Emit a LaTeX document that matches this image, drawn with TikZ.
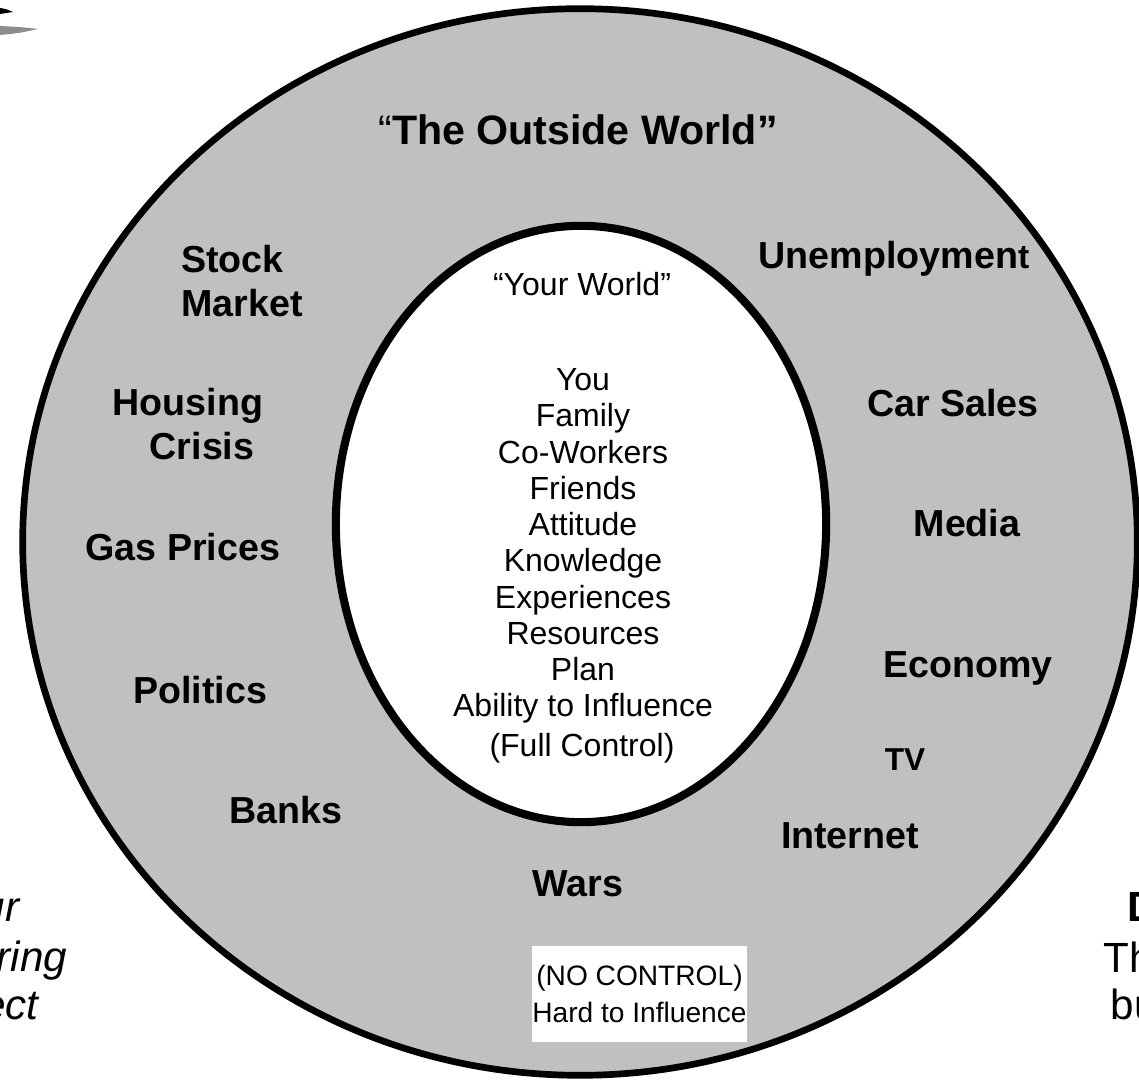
\documentclass[tikz,border=0pt]{standalone}
\usepackage{fontspec}
\setmainfont{Liberation Sans}
\definecolor{ringgray}{RGB}{192,192,192}

\tikzset{
  outerlbl/.style={font=\fontsize{10.7}{12.6}\selectfont\bfseries, align=center, inner sep=0pt},
  innerlbl/.style={font=\fontsize{9.1}{10.3}\selectfont, align=center, inner sep=0pt},
  cutlbl/.style={font=\fontsize{12}{14}\selectfont, inner sep=0pt}
}

\begin{document}
\begin{tikzpicture}[x=0.01cm,y=-0.01cm]
\useasboundingbox (0,0) rectangle (1139,1080);
\clip (0,0) rectangle (1139,1080);

% corner swoosh
\fill[black] (0,8) .. controls (6,9) .. (13,12) .. controls (6,13) .. (0,14) -- cycle;
\fill[black!45] (0,26) .. controls (20,27) .. (38,29) .. controls (20,33) .. (0,35) -- cycle;

% outside world
\draw[line width=1.9pt,fill=ringgray] (580,542) ellipse [x radius=5.57cm, y radius=5.33cm];

% your world
\draw[line width=2.3pt,fill=white] (581,524) ellipse [x radius=2.45cm, y radius=2.98cm];

\node[outerlbl,font=\fontsize{11.7}{14}\selectfont\bfseries] (outside) at (578,130) {{\mdseries “}The Outside World”};

\node[outerlbl,align=left] (stock) at (242,281) {Stock\\Market};
\node[outerlbl] (housing) at (188,424) {Housing\\\hspace*{8pt}Crisis};
\node[outerlbl] (gas) at (183,547) {Gas Prices};
\node[outerlbl] (politics) at (200,690) {Politics};
\node[outerlbl] (banks) at (286,810) {Banks};
\node[outerlbl] (wars) at (578,884) {Wars};

\node[outerlbl] (unemp) at (894,259) {Unemploymen{\fontsize{9.6}{11}\selectfont t}};
\node[outerlbl] (cars) at (953,403) {Car Sales};
\node[outerlbl] (media) at (967,523) {Media};
\node[outerlbl] (economy) at (968,668) {Economy};
\node[outerlbl,font=\fontsize{9}{10}\selectfont\bfseries] (tv) at (905,760) {TV};
\node[outerlbl] (internet) at (850,836) {Internet};

% inner list
\node[innerlbl] (yours) at (582,284) {“Your World”};
\node[innerlbl] (list) at (583,546) {You\\Family\\Co-Workers\\Friends\\Attitude\\Knowledge\\Experiences\\Resources\\Plan\\Ability to Influence};
\node[innerlbl] (full) at (582,748) {(Full Control)};

% box at the bottom
\node[innerlbl,font=\fontsize{8}{10.5}\selectfont,fill=white,minimum width=1.97cm,minimum height=0.96cm] (noctrl) at (639.5,994) {(NO CONTROL)\\Hard to Influence};

% cut-off texts
\node[cutlbl,font=\fontsize{12}{14}\selectfont\itshape,anchor=base east] (lefta) at (20,922) {ur};
\node[cutlbl,font=\fontsize{12}{14}\selectfont\itshape,anchor=base east] (leftb) at (68,972) {ring};
\node[cutlbl,font=\fontsize{12}{14}\selectfont\itshape,anchor=base east] (leftc) at (39,1020) {ect};
\node[cutlbl,font=\fontsize{12}{14}\selectfont\bfseries,anchor=base west] (righta) at (1127,922) {D};
\node[cutlbl,anchor=base west] (rightb) at (1103,973) {Th};
\node[cutlbl,anchor=base west] (rightc) at (1110,1020) {bu};

\end{tikzpicture}
\end{document}
